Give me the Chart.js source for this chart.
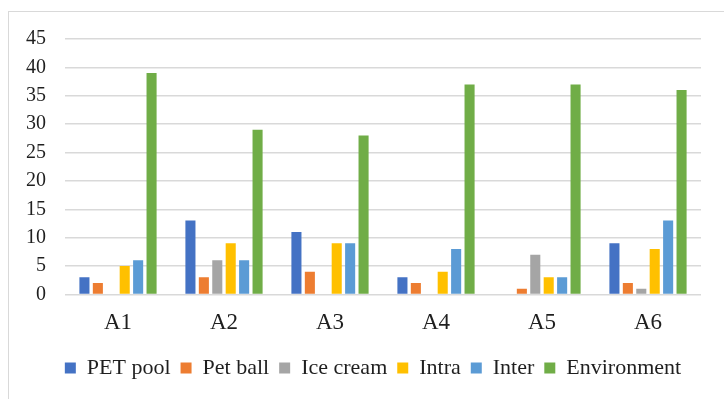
<!DOCTYPE html>
<html>
<head>
<meta charset="utf-8">
<script src="https://cdn.jsdelivr.net/npm/chart.js@4.4.1/dist/chart.umd.min.js"></script>
<style>
  html, body { margin: 0; padding: 0; background: #fff; }
  #wrap { position: relative; width: 724px; height: 399px; overflow: hidden; }
  #frame { position: absolute; left: 8px; top: 11px; width: 800px; height: 500px;
           border-left: 1.5px solid #d9d9d9; border-top: 1.5px solid #d9d9d9; }
  canvas { position: absolute; left: 0; top: 0; }
</style>
</head>
<body>
<div id="wrap">
  <div id="frame"></div>
  <canvas id="c" width="724" height="399"></canvas>
</div>
<script>
const categories = ['A1', 'A2', 'A3', 'A4', 'A5', 'A6'];
const petPool     = [3, 13, 11, 3, 0, 9];
const petBall     = [2, 3, 4, 2, 1, 2];
const iceCream    = [0, 6, 0, 0, 7, 1];
const intra       = [5, 9, 9, 4, 3, 8];
const inter       = [6, 6, 9, 8, 3, 13];
const environment = [39, 29, 28, 37, 37, 36];
const yTicks = [0, 5, 10, 15, 20, 25, 30, 35, 40, 45];

const family = '"Liberation Serif", "Times New Roman", serif';
const textColor = '#1f1f1f';

function series(label, data, color) {
  return { label, data, backgroundColor: color, borderWidth: 0,
           barPercentage: 0.75, categoryPercentage: 0.76 };
}

// Nudge the legend row slightly to the right.
const legendShift = {
  id: 'legendShift',
  afterLayout(chart) {
    chart.legend.left += 10;
    chart.legend.right += 10;
  }
};

new Chart(document.getElementById('c'), {
  type: 'bar',
  data: {
    labels: categories,
    datasets: [
      series('PET pool', petPool, '#4472C4'),
      series('Pet ball', petBall, '#ED7D31'),
      series('Ice cream', iceCream, '#A5A5A5'),
      series('Intra', intra, '#FFC000'),
      series('Inter', inter, '#5B9BD5'),
      series('Environment', environment, '#70AD47')
    ]
  },
  plugins: [legendShift],
  options: {
    responsive: false,
    animation: false,
    layout: { padding: { left: 25, right: 23, top: 39, bottom: 10 } },
    plugins: {
      tooltip: { enabled: false },
      legend: {
        position: 'bottom',
        labels: { font: { family, size: 22 }, color: textColor,
                  boxWidth: 11, boxHeight: 11, padding: 10 }
      }
    },
    scales: {
      x: {
        grid: { display: false, drawTicks: false },
        border: { display: false },
        afterFit: s => { s.height -= 5; },
        ticks: { font: { family, size: 23 }, color: textColor, padding: 15 }
      },
      y: {
        min: 0, max: 45,
        afterBuildTicks: s => { s.ticks = yTicks.map(v => ({ value: v })); },
        afterFit: s => { s.width = 40; },
        grid: { color: '#d9d9d9', lineWidth: 1.5, drawTicks: false },
        border: { display: false },
        ticks: { font: { family, size: 20 }, color: textColor, padding: 19 }
      }
    }
  }
});
</script>
</body>
</html>
